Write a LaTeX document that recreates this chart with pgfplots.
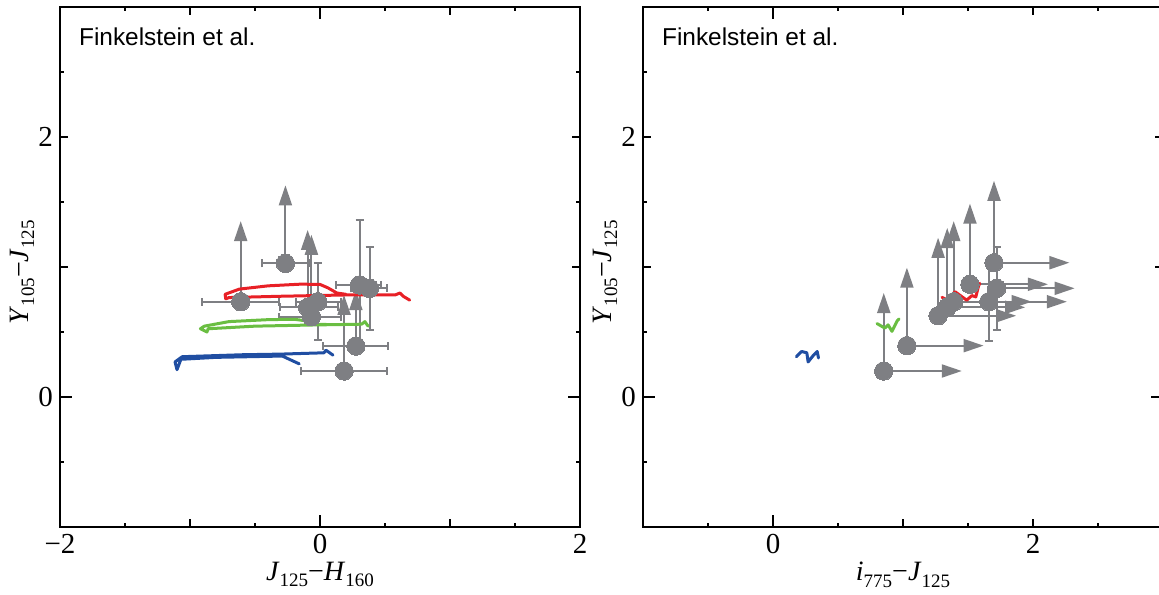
\documentclass[border=0pt]{standalone}
\usepackage{fontspec}
\setmainfont{Liberation Serif}
\newfontfamily\notesans{Liberation Sans}
\usepackage{pgfplots}
\pgfplotsset{compat=1.18}
\usetikzlibrary{arrows.meta}

\definecolor{ptgray}{RGB}{126,127,131}
\definecolor{trkred}{RGB}{232,32,38}
\definecolor{trkgreen}{RGB}{106,190,66}
\definecolor{trkblue}{RGB}{32,78,162}

% subscripts for the filter names in the axis labels
\newcommand\fsub[1]{\raisebox{-0.22em}{\fontsize{9.5}{11}\selectfont #1}}

% galaxies: colour-colour positions
\pgfplotstableread{
x       y      xm     xp     ye
-0.610  0.733  0.295  0.293  0
-0.266  1.028  0.182  0.183  0
-0.095  0.690  0.215  0.235  0
-0.018  0.733  0.167  0.178  0.295
-0.066  0.618  0.248  0.231  0
 0.304  0.862  0.180  0.167  0.50
 0.381  0.836  0.140  0.136  0.32
 0.276  0.392  0.250  0.247  0
 0.185  0.200  0.332  0.332  0
}\leftpts

\pgfplotstableread{
x       y      u   v
-0.610  0.733  0   0.62
-0.266  1.028  0   0.60
-0.095  0.690  0   0.595
-0.066  0.618  0   0.63
 0.276  0.392  0   0.43
 0.185  0.200  0   0.585
}\leftlim

\pgfplotstableread{
x      y      ye
0.852  0.200  0
1.030  0.395  0
1.270  0.625  0
1.340  0.690  0
1.390  0.733  0
1.515  0.867  0
1.700  1.033  0
1.720  0.836  0.32
1.660  0.733  0.30
}\rightpts

\pgfplotstableread{
x      y      u    v
0.852  0.200  0    0.60
1.030  0.395  0    0.60
1.270  0.625  0    0.60
1.340  0.690  0    0.61
1.390  0.733  0    0.62
1.515  0.867  0    0.62
1.700  1.033  0    0.63
0.852  0.200  0.60 0
1.030  0.395  0.59 0
1.270  0.625  0.60 0
1.340  0.690  0.60 0
1.390  0.733  0.60 0
1.515  0.867  0.60 0
1.700  1.033  0.58 0
1.720  0.836  0.60 0
1.660  0.733  0.60 0
}\rightlim

\tikzset{note/.style={anchor=base west, inner sep=0pt, font=\notesans\fontsize{12.2}{14}\selectfont}}

\pgfplotsset{
  panel/.style={
    scale only axis, width=260pt, height=260pt,
    ymin=-1, ymax=3,
    ytick={-1,1,2,3}, yticklabels={,,2,},
    minor ytick={-0.5,0.5,1.5,2.5},
    extra y ticks={0}, extra y tick labels={0},
    extra y tick style={major tick length=6pt},
    extra x tick style={major tick length=6pt},
    tick align=inside,
    major tick length=4pt, minor tick length=2pt,
    every tick/.style={black, line width=0.75pt},
    axis line style={line width=1pt},
    tick label style={font=\fontsize{14.5}{16}\selectfont},
    every axis y label/.style={at={(axis description cs:-0.073,0.49)}, rotate=90, anchor=center,
      font=\fontsize{14}{16}\selectfont},
    every axis x label/.style={at={(axis description cs:0.5,-0.092)}, anchor=center,
      font=\fontsize{14}{16}\selectfont},
    ylabel={\textit{Y}\fsub{105}−\textit{J}\fsub{125}},
  },
  track/.style={line width=1.5pt, line join=round, line cap=round, mark=none},
  errs/.style={ptgray, line width=1pt, only marks, mark=none,
    error bars/error bar style={ptgray, line width=1pt},
    error bars/error mark options={rotate=90, mark size=2pt, ptgray, line width=1pt}},
  limits/.style={ptgray, line width=1pt, -{Triangle[length=10pt,width=6.5pt]},
    quiver={u=\thisrow{u}, v=\thisrow{v}}},
  dots/.style={ptgray, only marks, mark=*, mark size=4.6pt,
    mark options={fill=ptgray, draw=ptgray, line width=0pt}},
}

\begin{document}
\begin{tikzpicture}
\begin{axis}[panel, at={(0pt,0pt)}, anchor=south west,
  xmin=-2, xmax=2,
  xtick={-2,-1,1,2}, xticklabels={−2,,,2},
  minor xtick={-1.5,-0.5,0.5,1.5},
  extra x ticks={0}, extra x tick labels={0},
  xlabel={\textit{J}\fsub{125}−\textit{H}\fsub{160}}]
  \addplot[errs, error bars/.cd, x dir=both, x explicit, y dir=both, y explicit]
    table[x=x, y=y, x error plus=xp, x error minus=xm, y error=ye] {\leftpts};
  \addplot[limits] table {\leftlim};
  % model tracks
  \addplot[track, trkred] coordinates {(0.69,0.745) (0.64,0.775) (0.615,0.80) (0.58,0.786) (0.2,0.785) (-0.3,0.775) (-0.70,0.765) (-0.725,0.755) (-0.73,0.79) (-0.62,0.83) (-0.4,0.855) (-0.15,0.868) (0.0,0.866) (0.06,0.84) (0.13,0.80) (0.2,0.79)};
  \addplot[track, trkgreen] coordinates {(0.37,0.545) (0.345,0.58) (0.32,0.56) (0.0,0.555) (-0.5,0.545) (-0.86,0.525) (-0.87,0.50) (-0.92,0.525) (-0.89,0.545) (-0.7,0.58) (-0.4,0.595) (-0.2,0.598) (-0.1,0.585) (-0.02,0.56) (0.1,0.556)};
  \addplot[track, trkblue] coordinates {(-0.16,0.255) (-0.29,0.315) (-0.8,0.305) (-1.07,0.29) (-1.10,0.21) (-1.115,0.27) (-1.06,0.31) (-0.6,0.325) (-0.3,0.33) (0.03,0.34) (0.046,0.36) (0.1,0.322)};
  \addplot[dots] table[x=x, y=y] {\leftpts};
  \node[note] at (axis description cs:0.036,0.925) {Finkelstein et al.};
\end{axis}

\begin{axis}[panel, at={(291.5pt,0pt)}, anchor=south west,
  xmin=-1, xmax=3,
  xtick={-1,1,2,3}, xticklabels={,,2,},
  minor xtick={-0.5,0.5,1.5,2.5},
  extra x ticks={0}, extra x tick labels={0},
  xlabel={\textit{i}\fsub{775}−\textit{J}\fsub{125}}]
  \addplot[errs, error bars/.cd, y dir=both, y explicit]
    table[x=x, y=y, y error=ye] {\rightpts};
  \addplot[limits] table {\rightlim};
  % model tracks
  \addplot[track, trkred] coordinates {(1.30,0.767) (1.34,0.745) (1.40,0.81) (1.455,0.77) (1.49,0.745) (1.53,0.78) (1.56,0.77) (1.58,0.85) (1.59,0.875)};
  \addplot[track, trkgreen] coordinates {(0.80,0.565) (0.86,0.53) (0.885,0.555) (0.915,0.505) (0.955,0.585) (0.97,0.60)};
  \addplot[track, trkblue] coordinates {(0.18,0.31) (0.22,0.35) (0.26,0.34) (0.27,0.27) (0.31,0.32) (0.34,0.35) (0.35,0.30)};
  \addplot[dots] table[x=x, y=y] {\rightpts};
  \node[note] at (axis description cs:0.036,0.925) {Finkelstein et al.};
\end{axis}

\pgfresetboundingbox
\path[use as bounding box] (-30pt,-33.5pt) rectangle (549.5pt,263.5pt);
\end{tikzpicture}
\end{document}
